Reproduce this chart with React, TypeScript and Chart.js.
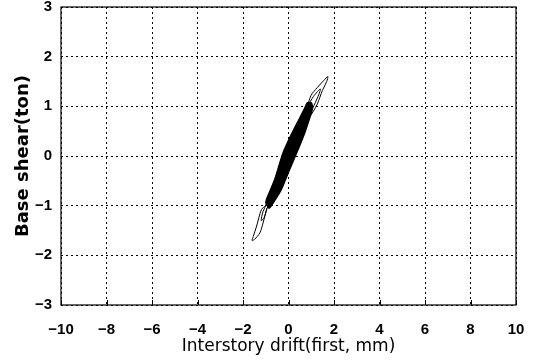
import React, { useEffect, useRef } from "react";
import { Chart, registerables } from "chart.js";

Chart.register(...registerables);

// Axis ticks
const xTicks = [-10, -8, -6, -4, -2, 0, 2, 4, 6, 8, 10];
const yTicks = [-3, -2, -1, 0, 1, 2, 3];

// Dense core of the hysteresis loops (closed outline)
const coreX = [-1.0, -0.97, -0.61, -0.25, 0.04, 0.41, 0.7, 0.83, 1.0, 1.05, 0.99, 0.7, 0.41, 0.3, 0.04, -0.32, -0.68, -0.85, -1.0];
const coreY = [-0.95, -0.88, -0.48, 0.05, 0.35, 0.69, 0.95, 1.07, 1.07, 0.95, 0.85, 0.45, 0.12, 0.0, -0.28, -0.68, -0.95, -1.05, -0.95];

// Upper outer loop
const upperX = [0.8, 0.99, 1.27, 1.55, 1.73, 1.68, 1.49, 1.27, 1.09, 0.95];
const upperY = [0.95, 1.22, 1.38, 1.52, 1.6, 1.5, 1.32, 1.05, 0.9, 0.8];

// Upper inner loop
const upper2X = [0.85, 1.1, 1.4, 1.3, 1.05];
const upper2Y = [1.0, 1.2, 1.35, 1.2, 0.95];

// Lower outer loop
const lowerX = [-0.8, -1.0, -1.19, -1.4, -1.55, -1.6, -1.5, -1.26, -1.12, -1.04, -0.9, -0.75];
const lowerY = [-0.9, -1.0, -1.08, -1.41, -1.62, -1.7, -1.68, -1.55, -1.35, -1.21, -1.01, -0.95];

// Lower inner loop
const innerX = [-0.95, -1.12, -1.2, -1.08, -0.95];
const innerY = [-0.95, -1.12, -1.3, -1.25, -1.05];

const toPts = (xs: number[], ys: number[]) => xs.map((x, i) => ({ x, y: ys[i] }));

const fmt = (v: number) => (v < 0 ? "\u2212" + Math.abs(v) : String(v));

const framePlugin = {
  id: "frame",
  afterDatasetsDraw(chart: any) {
    const { ctx, chartArea: a, scales } = chart;
    ctx.save();
    ctx.strokeStyle = "#000";
    ctx.lineWidth = 1.2;
    ctx.setLineDash([]);
    ctx.strokeRect(a.left, a.top, a.right - a.left, a.bottom - a.top);
    ctx.lineWidth = 1;
    ctx.beginPath();
    xTicks.forEach((t) => {
      const px = Math.round(scales.x.getPixelForValue(t)) + 0.5;
      ctx.moveTo(px, a.bottom);
      ctx.lineTo(px, a.bottom - 5);
    });
    ctx.stroke();
    ctx.restore();
  },
};

export default function App() {
  const ref = useRef<HTMLCanvasElement>(null);
  useEffect(() => {
    if (!ref.current) return;
    const lineDs = (xs: number[], ys: number[], w: number) => ({
      data: toPts(xs, ys),
      borderColor: "#000",
      borderWidth: w,
      pointRadius: 0,
      tension: 0.3,
      fill: false,
    });
    const tickFont = { family: "'Liberation Sans', Arial, sans-serif", size: 15, weight: "bold" };
    const chart = new Chart(ref.current, {
      type: "line",
      data: {
        datasets: [
          {
            data: toPts(coreX, coreY),
            borderColor: "#000",
            backgroundColor: "#000",
            borderWidth: 1.5,
            pointRadius: 0,
            tension: 0.2,
            fill: "shape",
          } as any,
          lineDs(upperX, upperY, 1),
          lineDs(upper2X, upper2Y, 1),
          lineDs(lowerX, lowerY, 1),
          lineDs(innerX, innerY, 1),
        ],
      },
      plugins: [framePlugin],
      options: {
        responsive: false,
        animation: false,
        layout: { padding: { top: 7, right: 20, left: 0, bottom: 0 } },
        plugins: { legend: { display: false }, tooltip: { enabled: false } },
        scales: {
          x: {
            type: "linear",
            min: -10,
            max: 10,
            afterBuildTicks: (s: any) => {
              s.ticks = xTicks.map((v) => ({ value: v }));
            },
            afterFit: (s: any) => {
              s.height = 56;
              s.paddingLeft = 0;
              s.paddingRight = 0;
            },
            ticks: {
              color: "#000",
              padding: 16,
              maxRotation: 0,
              font: tickFont,
              callback: (v: any) => fmt(Number(v)),
            },
            grid: { color: "#000", lineWidth: 1, drawTicks: false },
            border: { display: false, dash: [2, 3] },
            title: {
              display: true,
              text: "Interstory drift(first, mm)",
              color: "#000",
              padding: { top: 0, bottom: 4 },
              font: { family: "'DejaVu Sans', sans-serif", size: 17, weight: "normal" },
            },
          },
          y: {
            type: "linear",
            min: -3,
            max: 3,
            afterBuildTicks: (s: any) => {
              s.ticks = yTicks.map((v) => ({ value: v }));
            },
            afterFit: (s: any) => {
              s.width = 61;
              s.paddingTop = 0;
              s.paddingBottom = 0;
            },
            ticks: {
              color: "#000",
              padding: 9,
              font: tickFont,
              callback: (v: any) => fmt(Number(v)),
            },
            grid: { color: "#000", lineWidth: 1, drawTicks: false },
            border: { display: false, dash: [2, 3] },
            title: {
              display: true,
              text: "Base shear(ton)",
              color: "#000",
              padding: { top: 13, bottom: 0 },
              font: { family: "'DejaVu Sans', sans-serif", size: 18, weight: "bold" },
            },
          },
        },
      },
    } as any);
    return () => chart.destroy();
  }, []);
  return (
    <div style={{ position: "absolute", left: 0, top: 0, width: 536, height: 361, background: "#fff" }}>
      <canvas ref={ref} width={536} height={361} style={{ display: "block" }} />
    </div>
  );
}
